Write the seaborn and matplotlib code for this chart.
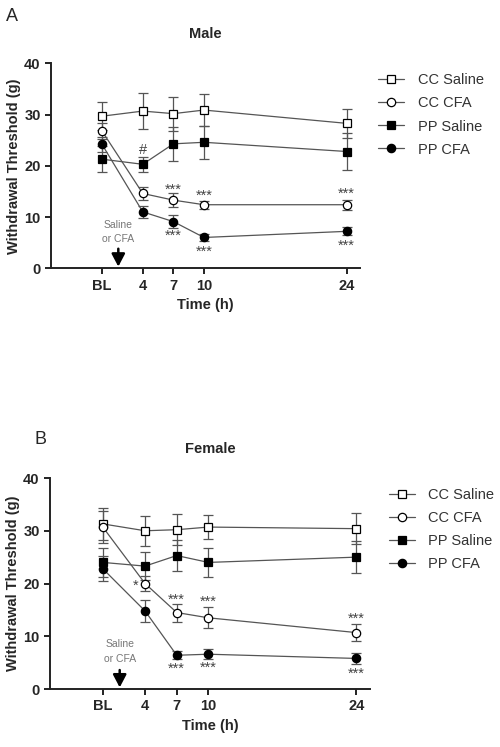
import numpy as np
import pandas as pd
import matplotlib
import matplotlib.pyplot as plt
import seaborn as sns
from matplotlib.lines import Line2D

matplotlib.use('Agg')

# ---- data ----
time_h = [0, 4, 7, 10, 24]
tick_labels = ["BL", "4", "7", "10", "24"]
groups = ["CC Saline", "CC CFA", "PP Saline", "PP CFA"]

male_mean = {
    "CC Saline": [29.7, 30.7, 30.2, 30.9, 28.3],
    "CC CFA": [26.8, 14.6, 13.3, 12.4, 12.4],
    "PP Saline": [21.3, 20.3, 24.3, 24.6, 22.8],
    "PP CFA": [24.2, 11.0, 9.1, 6.0, 7.2],
}
male_sem = {
    "CC Saline": [2.7, 3.5, 3.3, 3.2, 2.9],
    "CC CFA": [1.5, 1.2, 1.3, 0.8, 1.0],
    "PP Saline": [2.6, 1.5, 3.3, 3.2, 3.7],
    "PP CFA": [1.5, 1.2, 1.2, 0.6, 0.8],
}
female_mean = {
    "CC Saline": [31.3, 30.0, 30.2, 30.7, 30.4],
    "CC CFA": [30.7, 20.0, 14.5, 13.5, 10.7],
    "PP Saline": [24.0, 23.3, 25.3, 24.0, 25.0],
    "PP CFA": [22.8, 14.8, 6.4, 6.6, 5.8],
}
female_sem = {
    "CC Saline": [3.0, 2.8, 2.9, 2.3, 3.0],
    "CC CFA": [3.0, 1.5, 1.7, 2.0, 1.6],
    "PP Saline": [2.7, 2.7, 3.0, 2.8, 3.0],
    "PP CFA": [2.4, 2.0, 0.8, 0.9, 1.0],
}

# significance marks: (text, x, y)
male_marks = [("#", 4, 23.0), ("***", 7, 15.4), ("***", 10, 14.1), ("***", 24, 14.5),
              ("***", 7, 6.3), ("***", 10, 3.3), ("***", 24, 4.4)]
female_marks = [("*", 3.1, 19.6), ("***", 7, 17.0), ("***", 10, 16.6), ("***", 24, 13.4),
                ("***", 7, 3.9), ("***", 10, 4.0), ("***", 24, 2.9)]

styles = {
    "CC Saline": dict(marker="s", mfc="white"),
    "CC CFA": dict(marker="o", mfc="white"),
    "PP Saline": dict(marker="s", mfc="black"),
    "PP CFA": dict(marker="o", mfc="black"),
}

sns.set_style("ticks")
plt.rcParams['font.family'] = ['Liberation Sans', 'DejaVu Sans']

fig = plt.figure(figsize=(5.0, 7.47), dpi=100)
ax_m = fig.add_axes([0.102, 0.641, 0.618, 0.274])
ax_f = fig.add_axes([0.100, 0.0776, 0.640, 0.2825])


def draw_panel(ax, means, sems, marks, title, arrow_y, leg_y):
    rows = []
    for g in groups:
        for t, m, s in zip(time_h, means[g], sems[g]):
            rows.append(dict(group=g, time=t, mean=m, sem=s))
    df = pd.DataFrame(rows)

    for g in groups:
        sub = df[df.group == g]
        ax.errorbar(sub.time, sub["mean"], yerr=sub["sem"], fmt="none",
                    ecolor="#555555", elinewidth=0.9, capsize=3.5, capthick=0.9, zorder=2)
    for g in groups:
        sub = df[df.group == g]
        st = styles[g]
        sns.lineplot(data=sub, x="time", y="mean", ax=ax, color="#555555",
                     linewidth=0.9, marker=st["marker"], markersize=6,
                     markerfacecolor=st["mfc"], markeredgecolor="black",
                     markeredgewidth=0.9, zorder=3, legend=False)

    for txt, x, y in marks:
        ax.text(x, y, txt, ha="center", va="center", fontsize=10.5, color="#444444")

    ax.text(1.6, 8.5, "Saline", ha="center", va="center", fontsize=7.5, color="#777777")
    ax.text(1.6, 5.7, "or CFA", ha="center", va="center", fontsize=7.5, color="#777777")
    ax.annotate("", xy=(1.6, 0.3), xytext=(1.6, arrow_y),
                arrowprops=dict(arrowstyle="-|>,head_length=0.38,head_width=0.2",
                                mutation_scale=20, shrinkA=0, shrinkB=0,
                                color="black", lw=1.8))

    ax.set_xlim(-5, 25.3)
    ax.set_ylim(0, 40)
    ax.set_xticks(time_h)
    ax.set_xticklabels(tick_labels)
    ax.set_yticks([0, 10, 20, 30, 40])
    for lab in ax.get_xticklabels() + ax.get_yticklabels():
        lab.set_fontweight("bold")
        lab.set_fontsize(10.5)
    ax.tick_params(axis="both", direction="out", length=4, width=1.4, color="#222222")
    ax.set_xlabel("Time (h)", fontsize=10.5, fontweight="bold", labelpad=4)
    ax.set_ylabel("Withdrawal Threshold (g)", fontsize=10.5, fontweight="bold", labelpad=2)
    ax.set_title(title, fontsize=10.5, fontweight="bold", pad=18)
    for side in ["left", "bottom"]:
        ax.spines[side].set_linewidth(1.4)
        ax.spines[side].set_color("#222222")
    sns.despine(ax=ax)

    handles = [Line2D([0], [0], color="#555555", lw=0.9, marker=styles[g]["marker"],
                      markersize=6, markerfacecolor=styles[g]["mfc"],
                      markeredgecolor="black", markeredgewidth=0.9) for g in groups]
    leg = ax.legend(handles, groups, loc="upper left", bbox_to_anchor=(1.04, leg_y),
                    frameon=False, fontsize=10.5, handlelength=1.8, handletextpad=0.9,
                    labelspacing=0.62, borderaxespad=0)
    for t in leg.get_texts():
        t.set_color("#333333")


draw_panel(ax_m, male_mean, male_sem, male_marks, "Male", 3.8, 0.98)
draw_panel(ax_f, female_mean, female_sem, female_marks, "Female", 3.6, 0.98)

fig.text(0.012, 0.978, "A", fontsize=13, va="center", ha="left")
fig.text(0.07, 0.412, "B", fontsize=13, va="center", ha="left")

fig.savefig("out.png", dpi=100)
